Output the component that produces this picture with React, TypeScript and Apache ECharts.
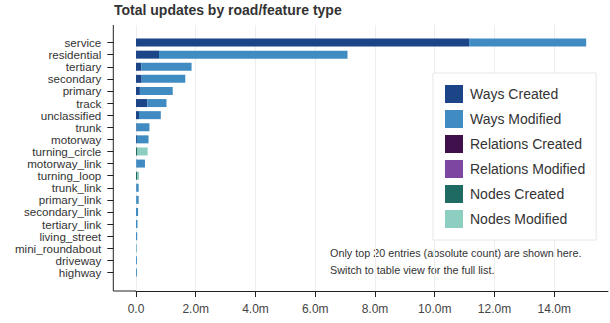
import React, { useEffect, useRef } from "react";
import * as echarts from "echarts";

const categories = [
  "service", "residential", "tertiary", "secondary", "primary", "track",
  "unclassified", "trunk", "motorway", "turning_circle", "motorway_link",
  "turning_loop", "trunk_link", "primary_link", "secondary_link",
  "tertiary_link", "living_street", "mini_roundabout", "driveway", "highway",
];

const waysCreated = [11.15e6, 0.77e6, 0.18e6, 0.19e6, 0.13e6, 0.38e6, 0.1e6, 0.02e6, 0.03e6, 0, 0.01e6, 0, 0.01e6, 0.01e6, 0, 0, 0, 0, 0, 0];
const waysModified = [3.92e6, 6.31e6, 1.68e6, 1.46e6, 1.1e6, 0.64e6, 0.73e6, 0.43e6, 0.39e6, 0, 0.29e6, 0, 0.08e6, 0.08e6, 0.07e6, 0.05e6, 0.04e6, 0.02e6, 0.03e6, 0.03e6];
const relationsCreated = [0, 0, 0, 0, 0, 0, 0, 0, 0, 0, 0, 0, 0, 0, 0, 0, 0, 0, 0, 0];
const relationsModified = [0, 0, 0, 0, 0, 0, 0, 0, 0, 0, 0, 0, 0, 0, 0, 0, 0, 0, 0, 0];
const nodesCreated = [0, 0, 0, 0, 0, 0, 0, 0, 0, 0.05e6, 0, 0.05e6, 0, 0, 0, 0, 0, 0, 0, 0];
const nodesModified = [0, 0, 0, 0, 0, 0, 0, 0, 0, 0.34e6, 0, 0.05e6, 0, 0, 0, 0, 0, 0.01e6, 0, 0];

const seriesNames = ["Ways Created", "Ways Modified", "Relations Created", "Relations Modified", "Nodes Created", "Nodes Modified"];
const seriesColors = ["#1c4587", "#408bc1", "#40104d", "#7d46a0", "#1f6b63", "#8ccfc1"];
const seriesData = [waysCreated, waysModified, relationsCreated, relationsModified, nodesCreated, nodesModified];

const xTicks = [0, 2e6, 4e6, 6e6, 8e6, 10e6, 12e6, 14e6];
const xMax = 15.8e6;

const FONT = "Liberation Sans, Arial, Helvetica, sans-serif";

const fmt = (v: number) => (v === 0 ? "0.0" : (v / 1e6).toFixed(1) + "m");

export default function App() {
  const ref = useRef<HTMLDivElement>(null);
  useEffect(() => {
    if (!ref.current) return;
    const chart = echarts.init(ref.current, undefined, { renderer: "svg" });
    chart.setOption({
      animation: false,
      backgroundColor: "#ffffff",
      textStyle: { fontFamily: FONT },
      title: {
        text: "Total updates by road/feature type",
        left: 114,
        top: 3,
        padding: 0,
        textStyle: { fontSize: 14, fontWeight: "bold", color: "#333", fontFamily: FONT },
      },
      legend: {
        orient: "vertical",
        left: 433,
        top: 73,
        padding: [12, 11, 12, 12],
        itemWidth: 18,
        itemHeight: 18,
        itemGap: 7,
        icon: "rect",
        backgroundColor: "#ffffff",
        borderColor: "#e6e6e6",
        borderWidth: 1,
        data: seriesNames,
        textStyle: { fontSize: 14, color: "#333", fontFamily: FONT, padding: [0, 0, 0, 2] },
      },
      grid: [
        { left: 136, right: 2, top: 36.5, bottom: 44.5 },
        { left: 136, right: 2, top: 25, bottom: 32 },
        { left: 113.3, right: 2, top: 36.5, bottom: 44.5 },
      ],
      xAxis: [
        { type: "value", gridIndex: 0, min: 0, max: xMax, show: false },
        {
          type: "value",
          gridIndex: 1,
          min: 0,
          max: xMax,
          interval: 2e6,
          axisLine: { show: true, lineStyle: { color: "#222", width: 1 } },
          axisTick: { show: true, length: 6, lineStyle: { color: "#222" }, customValues: xTicks },
          axisLabel: {
            customValues: xTicks,
            formatter: (v: number) => fmt(v),
            fontSize: 12,
            color: "#444",
            margin: 12,
            fontFamily: FONT,
          },
          splitLine: { show: true, lineStyle: { color: "#eeeeee", width: 1 } },
        },
        { type: "value", gridIndex: 2, min: 0, max: 1, show: false },
      ],
      yAxis: [
        { type: "category", gridIndex: 0, data: categories, inverse: true, show: false },
        { type: "value", gridIndex: 1, show: false, min: 0, max: 1 },
        {
          type: "category",
          gridIndex: 2,
          data: categories,
          inverse: true,
          axisLine: { show: false },
          axisTick: { show: true, length: 6, alignWithLabel: true, interval: 0, lineStyle: { color: "#222" } },
          axisLabel: { fontSize: 11.6, lineHeight: 11, color: "#333", margin: 12, interval: 0, fontFamily: FONT },
          splitLine: { show: false },
        },
      ],
      graphic: [
        {
          type: "line",
          shape: { x1: 113.3, y1: 25, x2: 113.3, y2: 291 },
          style: { stroke: "#222", lineWidth: 1 },
        },
        {
          type: "line",
          shape: { x1: 113.3, y1: 291, x2: 136, y2: 291 },
          style: { stroke: "#222", lineWidth: 1 },
        },
        {
          type: "text",
          left: 330,
          top: 244,
          style: {
            text: "Only top 20 entries (absolute count) are shown here.\nSwitch to table view for the full list.",
            fontSize: 10.8,
            lineHeight: 17,
            fill: "#333",
            fontFamily: FONT,
          },
        },
      ],
      series: seriesNames.map((name, i) => ({
        name,
        type: "bar",
        stack: "total",
        xAxisIndex: 0,
        yAxisIndex: 0,
        barWidth: 8,
        itemStyle: { color: seriesColors[i] },
        data: seriesData[i],
      })),
    });
    return () => chart.dispose();
  }, []);
  return <div ref={ref} style={{ width: 610, height: 323, position: "absolute", left: 0, top: 0 }} />;
}
